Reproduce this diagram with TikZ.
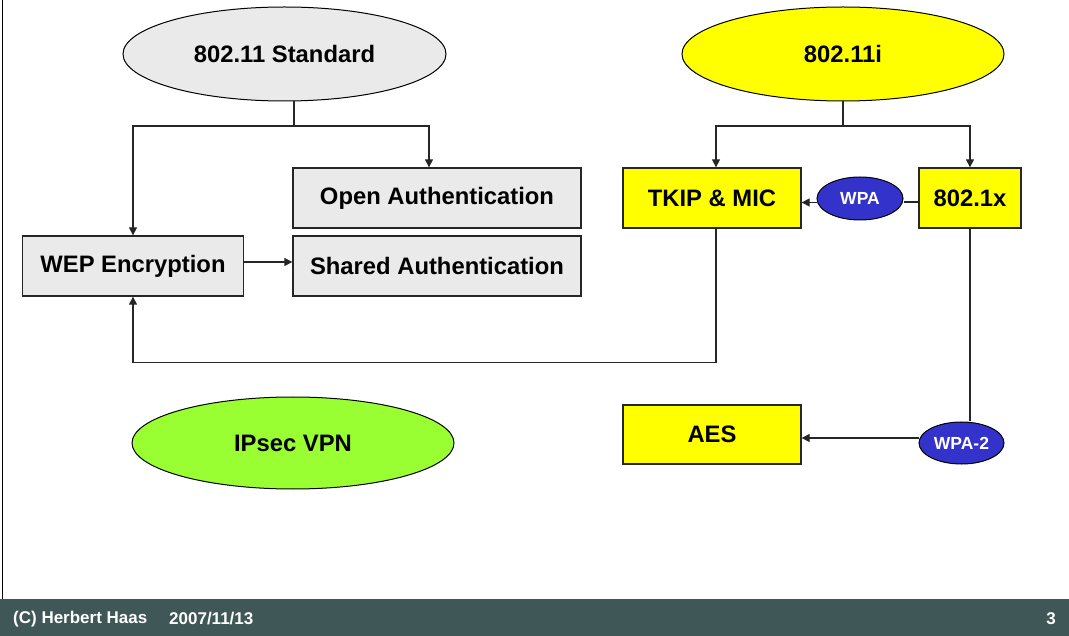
\documentclass[tikz,border=0pt]{standalone}
\usepackage{fontspec}
\setmainfont{Liberation Sans}
\usetikzlibrary{shapes.geometric,arrows.meta}
\definecolor{boxgrey}{HTML}{EAEAEA}
\definecolor{yel}{HTML}{FFFF00}
\definecolor{wpablue}{HTML}{3333CC}
\definecolor{vpngreen}{HTML}{99FF33}
\definecolor{footbar}{HTML}{3F5757}
\tikzset{
  box/.style={draw=black!85, line width=1.3pt, rectangle, inner sep=0pt, font=\fontsize{23.8}{28}\selectfont\bfseries},
  oval/.style={draw=black, line width=1pt, ellipse, inner sep=0pt, font=\fontsize{23.8}{28}\selectfont\bfseries},
  tag/.style={draw=black, line width=1pt, ellipse, inner sep=0pt, fill=wpablue, text=white, font=\fontsize{17.5}{20}\selectfont\bfseries},
  conn/.style={draw=black!85, line width=1.2pt},
  arr/.style={conn, -{Triangle[length=8pt,width=8pt]}},
  foot/.style={text=white, inner sep=0pt, font=\fontsize{17}{20}\selectfont\bfseries}
}
\begin{document}
\begin{tikzpicture}[x=1pt,y=-1pt]
\useasboundingbox (0,0) rectangle (1069,636);
% frame and footer
\draw[line width=1pt] (2,0) -- (2,599);
\fill[footbar] (0,599) rectangle (1069,636);
\node[foot, anchor=west] (copy) at (13,619) {(C) Herbert Haas};
\node[foot, anchor=west] (date) at (169,619) {2007/11/13};
\node[foot, anchor=east] (page) at (1056,619) {3};
% nodes
\node[oval, fill=boxgrey, minimum width=323pt, minimum height=94pt] (std) at (284.5,54) {802.11 Standard};
\node[oval, fill=yel, minimum width=322pt, minimum height=94pt] (i) at (843,54) {802.11i};
\node[oval, fill=vpngreen, minimum width=322pt, minimum height=92pt] (vpn) at (293,443) {IPsec VPN};
\node[box, fill=boxgrey, minimum width=288pt, minimum height=60pt] (open) at (437,198) {Open Authentication};
\node[box, fill=boxgrey, minimum width=288pt, minimum height=60pt] (shared) at (437,266) {Shared Authentication};
\node[box, fill=boxgrey, minimum width=221pt, minimum height=60pt] (wep) at (133,266) {WEP Encryption};
\node[box, fill=yel, minimum width=178pt, minimum height=60pt] (tkip) at (712,198) {TKIP \& MIC};
\node[box, fill=yel, minimum width=102pt, minimum height=60pt] (dotx) at (970,198) {802.1x};
\node[box, fill=yel, minimum width=178pt, minimum height=59pt] (aes) at (712,434.5) {AES};
\node[tag, minimum width=86pt, minimum height=43pt] (wpa) at (860,198.5) {WPA};
\node[tag, minimum width=85pt, minimum height=42pt] (wpa2) at (961.5,443) {WPA-2};
% connectors
\coordinate (sj) at (294,126);
\coordinate (ij) at (843,126);
\coordinate (fb) at (133,362.5);
\draw[conn] (sj |- std.south) -- (sj);
\draw[arr] (sj) -| (wep.north);
\draw[arr] (sj) -| ([xshift=-8pt]open.north);
\draw[arr] ([yshift=4pt]wep.east) -- ([yshift=4pt]wep.east -| shared.west);
\draw[conn] (i.south) -- (ij);
\draw[arr] (ij) -| ([xshift=4pt]tkip.north);
\draw[arr] (ij) -| (dotx.north);
\draw[conn] ([yshift=-4pt]dotx.west) -- ([yshift=-4pt]dotx.west -| wpa.east);
\draw[arr] ([yshift=-4pt]wpa.west) -- ([yshift=-4pt]wpa.west -| tkip.east);
\draw[arr] ([xshift=4pt]tkip.south) |- (fb) -- (wep.south);
\draw[conn] (dotx.south) -- (dotx.south |- wpa2.north);
\draw[arr] ([yshift=5pt]wpa2.west) -- ([yshift=5pt]wpa2.west -| aes.east);
\end{tikzpicture}
\end{document}
